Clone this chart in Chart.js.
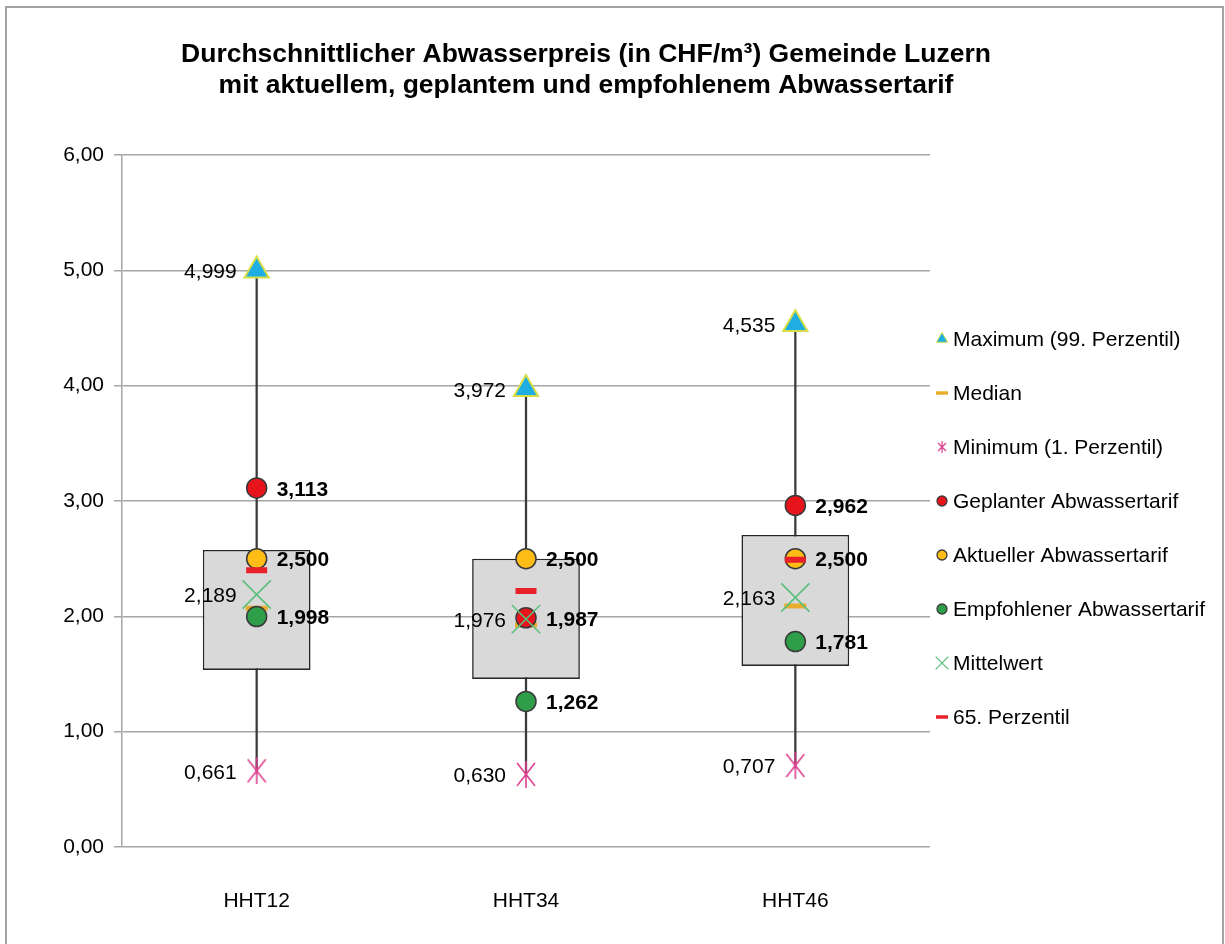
<!DOCTYPE html>
<html lang="de">
<head>
<meta charset="utf-8">
<title>Abwasserpreis Luzern</title>
<script src="https://cdn.jsdelivr.net/npm/chart.js@4.4.1/dist/chart.umd.min.js"></script>
<style>
    html, body { margin: 0; padding: 0; background: #fff; overflow: hidden; }
    #wrap { position: relative; width: 1225px; height: 944px; }
    #frame { position: absolute; left: 5px; top: 6px; width: 1215px; height: 1000px; border: 2px solid #a3a3a3; pointer-events: none; }
    canvas { display: block; }
</style>
</head>
<body>
<div id="wrap">
    <canvas id="chart" width="1225" height="944"></canvas>
    <div id="frame"></div>
</div>
<script>
const categories = ['HHT12', 'HHT34', 'HHT46'];
const maxValues = [4.999, 3.972, 4.535];
const minValues = [0.661, 0.630, 0.707];
const q1Values = [1.535, 1.457, 1.570];
const q3Values = [2.576, 2.500, 2.706];
const medianValues = [2.070, 1.925, 2.090];
const perc65Values = [2.400, 2.220, 2.490];
const meanValues = [2.189, 1.976, 2.163];
const geplantValues = [3.113, 1.987, 2.962];
const aktuellValues = [2.500, 2.500, 2.500];
const empfohlenValues = [1.998, 1.262, 1.781];

const titleLines = [
    'Durchschnittlicher Abwasserpreis (in CHF/m³) Gemeinde Luzern',
    'mit aktuellem, geplantem und empfohlenem Abwassertarif'
];

const FONT = "'Liberation Sans', Arial, sans-serif";
const fmt = (v, d) => v.toFixed(d).replace('.', ',');

// asterisk marker (X with vertical bar) like the Excel "Minimum" marker
function asterisk(w, h, color, lw) {
    const c = document.createElement('canvas');
    c.width = w;
    c.height = h;
    const g = c.getContext('2d');
    g.strokeStyle = color;
    g.lineWidth = lw;
    g.beginPath();
    g.moveTo(1, 2); g.lineTo(w - 1, h - 2);
    g.moveTo(w - 1, 2); g.lineTo(1, h - 2);
    g.moveTo(w / 2, 0); g.lineTo(w / 2, h);
    g.stroke();
    return c;
}

const pink = '#dc3f8e';
const minMarker = asterisk(20, 27, pink, 1.6);
const minLegendMarker = asterisk(10, 12, pink, 1.2);

function points(label, data, style) {
    return Object.assign({
        type: 'line',
        label,
        data,
        showLine: false,
        pointHitRadius: 0
    }, style);
}

const datasets = [
    points('Maximum (99. Perzentil)', maxValues, {
        pointStyle: 'triangle', pointRadius: 14,
        pointBackgroundColor: '#1eaee4', pointBorderColor: '#d8de48', pointBorderWidth: 2,
        order: 7, valueLabel: 'left',
        legend: { pointStyle: 'triangle', radius: 6.5, fill: '#1eaee4', stroke: '#d8de48', lw: 1 }
    }),
    points('Median', medianValues, {
        pointStyle: 'line', pointRadius: 11,
        pointBackgroundColor: '#e9ad2c', pointBorderColor: '#e9ad2c', pointBorderWidth: 5,
        order: 5,
        legend: { pointStyle: 'line', radius: 6, fill: '#e9ad2c', stroke: '#e9ad2c', lw: 3.5 }
    }),
    points('Minimum (1. Perzentil)', minValues, {
        pointStyle: minMarker, pointRadius: 12,
        order: 6, valueLabel: 'left',
        legend: { pointStyle: minLegendMarker, radius: 6 }
    }),
    points('Geplanter Abwassertarif', geplantValues, {
        pointStyle: 'circle', pointRadius: 10,
        pointBackgroundColor: '#e8141c', pointBorderColor: '#3a3a3a', pointBorderWidth: 1.5,
        order: 4, valueLabel: 'right',
        legend: { pointStyle: 'circle', radius: 5, fill: '#e8141c', stroke: '#3a3a3a', lw: 1.3 }
    }),
    points('Aktueller Abwassertarif', aktuellValues, {
        pointStyle: 'circle', pointRadius: 10,
        pointBackgroundColor: '#fdbd14', pointBorderColor: '#3a3a3a', pointBorderWidth: 1.5,
        order: 3, valueLabel: 'right',
        legend: { pointStyle: 'circle', radius: 5, fill: '#fdbd14', stroke: '#3a3a3a', lw: 1.3 }
    }),
    points('Empfohlener Abwassertarif', empfohlenValues, {
        pointStyle: 'circle', pointRadius: 10,
        pointBackgroundColor: '#2e9e48', pointBorderColor: '#3a3a3a', pointBorderWidth: 1.5,
        order: 2, valueLabel: 'right',
        legend: { pointStyle: 'circle', radius: 5, fill: '#2e9e48', stroke: '#3a3a3a', lw: 1.3 }
    }),
    points('Mittelwert', meanValues, {
        pointStyle: 'crossRot', pointRadius: 20,
        pointBackgroundColor: '#5cbf7c', pointBorderColor: '#5cbf7c', pointBorderWidth: 1.6,
        order: 1, valueLabel: 'left',
        legend: { pointStyle: 'crossRot', radius: 9, fill: '#5cbf7c', stroke: '#5cbf7c', lw: 1.3 }
    }),
    points('65. Perzentil', perc65Values, {
        pointStyle: 'line', pointRadius: 10.5,
        pointBackgroundColor: '#e8202a', pointBorderColor: '#e8202a', pointBorderWidth: 6,
        order: 0,
        legend: { pointStyle: 'line', radius: 6, fill: '#e8202a', stroke: '#e8202a', lw: 3.5 }
    }),
    {
        type: 'bar',
        label: 'Box',
        data: categories.map((c, i) => [q1Values[i], q3Values[i]]),
        backgroundColor: '#d9d9d9',
        borderColor: '#262626',
        borderWidth: 1.6,
        borderSkipped: false,
        grouped: false,
        categoryPercentage: 1,
        barPercentage: 0.4,
        order: 8
    },
    {
        type: 'bar',
        label: 'Whisker',
        data: categories.map((c, i) => [minValues[i], maxValues[i]]),
        backgroundColor: '#3a3a3a',
        barThickness: 1.6,
        grouped: false,
        order: 9
    }
];

const valueLabels = {
    id: 'valueLabels',
    afterDatasetsDraw(chart) {
        const ctx = chart.ctx;
        chart.data.datasets.forEach((ds, i) => {
            if (!ds.valueLabel) return;
            const right = ds.valueLabel === 'right';
            const meta = chart.getDatasetMeta(i);
            ctx.save();
            ctx.font = (right ? 'bold ' : '') + '21px ' + FONT;
            ctx.fillStyle = '#000';
            ctx.textBaseline = 'middle';
            ctx.textAlign = right ? 'left' : 'right';
            meta.data.forEach((el, j) => {
                ctx.fillText(fmt(ds.data[j], 3), el.x + (right ? 20 : -20), el.y + 2);
            });
            ctx.restore();
        });
    }
};

const titleBlock = {
    id: 'titleBlock',
    afterDraw(chart) {
        const ctx = chart.ctx;
        ctx.save();
        ctx.font = 'bold 26.5px ' + FONT;
        ctx.fillStyle = '#000';
        ctx.textAlign = 'center';
        ctx.textBaseline = 'middle';
        titleLines.forEach((t, i) => ctx.fillText(t, 586, 55 + i * 31));
        ctx.restore();
    }
};

const sideLegend = {
    id: 'sideLegend',
    afterDraw(chart) {
        const ctx = chart.ctx;
        const items = chart.data.datasets.filter(ds => ds.legend);
        items.forEach((ds, i) => {
            const y = 339 + i * 54;
            const m = ds.legend;
            ctx.save();
            ctx.fillStyle = m.fill || '#000';
            ctx.strokeStyle = m.stroke || '#000';
            ctx.lineWidth = m.lw || 1;
            Chart.helpers.drawPoint(ctx, {
                pointStyle: m.pointStyle, radius: m.radius, rotation: 0, borderWidth: m.lw || 0
            }, 942, y);
            ctx.font = '21px ' + FONT;
            ctx.fillStyle = '#000';
            ctx.textAlign = 'left';
            ctx.textBaseline = 'middle';
            ctx.fillText(ds.label, 953, y + 1);
            ctx.restore();
        });
    }
};

new Chart(document.getElementById('chart'), {
    type: 'bar',
    data: { labels: categories, datasets },
    options: {
        responsive: false,
        animation: false,
        events: [],
        layout: { padding: { top: 155, right: 295, bottom: 0, left: 0 } },
        plugins: {
            legend: { display: false },
            tooltip: { enabled: false },
            title: { display: false }
        },
        scales: {
            x: {
                grid: { display: false, drawTicks: false },
                border: { display: false },
                ticks: { font: { family: FONT, size: 21 }, color: '#000', padding: 42 },
                afterFit(s) { s.height = 97; }
            },
            y: {
                min: 0,
                max: 6,
                ticks: {
                    stepSize: 1,
                    callback: v => fmt(v, 2),
                    font: { family: FONT, size: 21 },
                    color: '#000',
                    padding: 10
                },
                grid: { color: '#a6a6a6', lineWidth: 1.5, tickLength: 8 },
                border: { display: true, color: '#a6a6a6', width: 1.5 },
                afterFit(s) { s.width = 122; }
            }
        }
    },
    plugins: [valueLabels, titleBlock, sideLegend]
});
</script>
</body>
</html>
